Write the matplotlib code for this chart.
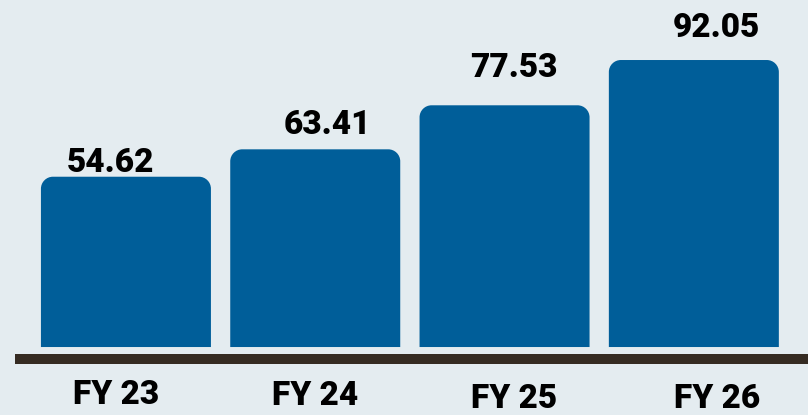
import numpy as np
import matplotlib.pyplot as plt
from matplotlib.path import Path
from matplotlib.patches import PathPatch

#-----------------
#data
#-----------------
years = ['FY 23', 'FY 24', 'FY 25', 'FY 26']
values = [54.62, 63.41, 77.53, 92.05]

#-----------------
#settings
#-----------------
bgColor = '#e4ecf0'
barColor = '#005e99'
lineColor = '#352b22'
fontName = 'Roboto'
fontSize = 24
# hand placed label nudges in pixels (dx, dy) as in the source picture
valueShift = [(-15, 5), (12, 15), (9, 28), (23, 23)]
yearShift = [(-10, 57), (0, 58), (10, 61), (23, 61)]
cornerPx = 12
barWidth = 0.898
dpi = 100
px2pt = 72.0 / dpi


def roundedTop(x0, x1, top, rx, ry):
    #bar outline with only the two upper corners rounded
    k = 0.5523
    verts = [(x0, 0), (x0, top - ry), (x0, top - ry + k * ry), (x0 + rx - k * rx, top), (x0 + rx, top),
             (x1 - rx, top), (x1 - rx + k * rx, top), (x1, top - ry + k * ry), (x1, top - ry),
             (x1, 0), (x0, 0)]
    codes = [Path.MOVETO, Path.LINETO, Path.CURVE4, Path.CURVE4, Path.CURVE4,
             Path.LINETO, Path.CURVE4, Path.CURVE4, Path.CURVE4,
             Path.LINETO, Path.CLOSEPOLY]
    return Path(verts, codes)


fig = plt.figure(figsize=(8.08, 4.15), dpi=dpi)
fig.patch.set_facecolor(bgColor)
ax = fig.add_axes([15 / 808, 0, 793 / 808, 1])
ax.set_facecolor(bgColor)
ax.set_xlim(-0.586, 3.603)
ax.set_ylim(-21.8, 111.3)
ax.axis('off')

x = np.arange(len(years))

#pixel size of one data unit, needed to keep the corners round
p0 = ax.transData.transform((0, 0))
p1 = ax.transData.transform((1, 1))
pxPerX = p1[0] - p0[0]
pxPerY = p1[1] - p0[1]
rx = cornerPx / pxPerX
ry = cornerPx / pxPerY

for i in range(len(years)):
    path = roundedTop(x[i] - barWidth / 2, x[i] + barWidth / 2, values[i], rx, ry)
    ax.add_patch(PathPatch(path, facecolor=barColor, edgecolor='none'))
    ax.annotate('{:.2f}'.format(values[i]), xy=(x[i], values[i]),
                xytext=(valueShift[i][0] * px2pt, valueShift[i][1] * px2pt), textcoords='offset points',
                ha='center', va='baseline', fontsize=fontSize, fontweight=900, family=fontName, color='black')
    ax.annotate(years[i], xy=(x[i], 0),
                xytext=(yearShift[i][0] * px2pt, -yearShift[i][1] * px2pt), textcoords='offset points',
                ha='center', va='baseline', fontsize=fontSize, fontweight=900, family=fontName, color='black')

#thick base line a little below the bars
ax.axhline(y=-12 / pxPerY, xmin=0, xmax=1, color=lineColor, linewidth=10 * px2pt)

plt.savefig('out.png', dpi=dpi, facecolor=bgColor)
